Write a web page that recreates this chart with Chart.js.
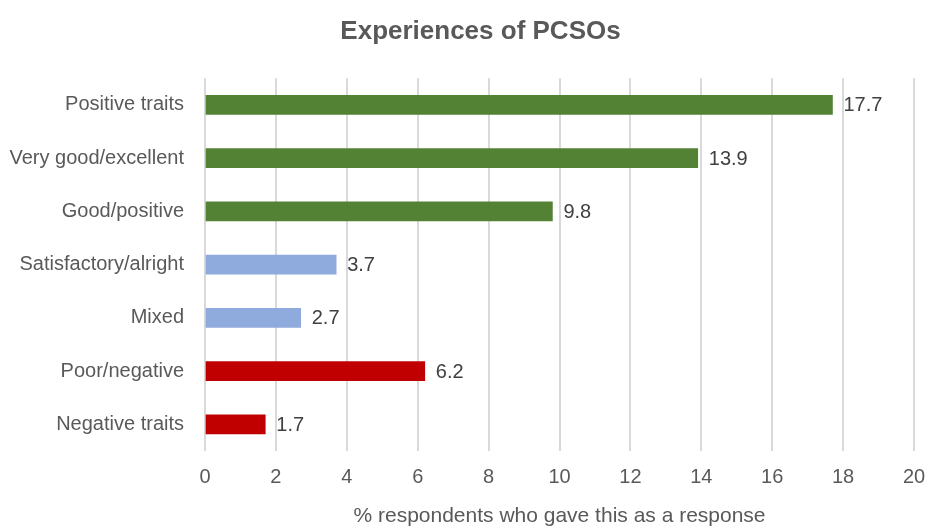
<!DOCTYPE html>
<html>
<head>
<meta charset="utf-8">
<script src="https://cdn.jsdelivr.net/npm/chart.js@4"></script>
<style>
  html, body { margin: 0; padding: 0; background: #fff; }
  #wrap { width: 927px; height: 529px; }
</style>
</head>
<body>
<div id="wrap"><canvas id="chart" width="927" height="529"></canvas></div>
<script>
// ====== DATA ======
const categories = ['Positive traits', 'Very good/excellent', 'Good/positive',
                    'Satisfactory/alright', 'Mixed', 'Poor/negative', 'Negative traits'];
const values     = [17.7, 13.9, 9.8, 3.7, 2.7, 6.2, 1.7];
const groups     = ['positive', 'positive', 'positive', 'neutral', 'neutral', 'negative', 'negative'];
const xTicks     = [0, 2, 4, 6, 8, 10, 12, 14, 16, 18, 20];

// ====== STYLE ======
const groupColors = { positive: '#548235', neutral: '#8faadc', negative: '#c00000' };
const FONT = "'Liberation Sans Narrow', 'Arial Narrow', 'Liberation Sans', sans-serif";
const TEXT = '#595959';

// draw value labels to the right of each bar
const valueLabels = {
  id: 'valueLabels',
  afterDatasetsDraw(chart) {
    const ctx = chart.ctx;
    const meta = chart.getDatasetMeta(0);
    ctx.save();
    ctx.font = '20px ' + FONT;
    ctx.fillStyle = '#404040';
    ctx.textAlign = 'left';
    ctx.textBaseline = 'middle';
    meta.data.forEach((bar, i) => {
      ctx.fillText(values[i].toFixed(1), bar.x + 11, bar.y + 1);
    });
    ctx.restore();
  }
};

// the original title sits a bit right of the canvas centre
const shiftTitle = {
  id: 'shiftTitle',
  afterLayout(chart) {
    if (chart.titleBlock) chart.titleBlock.left = 34;
  }
};

new Chart(document.getElementById('chart').getContext('2d'), {
  type: 'bar',
  data: {
    labels: categories,
    datasets: [{
      data: values,
      backgroundColor: groups.map(g => groupColors[g]),
      barThickness: 19
    }]
  },
  options: {
    indexAxis: 'y',
    responsive: false,
    animation: false,
    layout: { padding: 0 },
    plugins: {
      legend: { display: false },
      tooltip: { enabled: false },
      title: {
        display: true,
        text: 'Experiences of PCSOs',
        color: TEXT,
        font: { family: FONT, size: 26, weight: 'bold' },
        padding: { top: 16, bottom: 31 }
      }
    },
    scales: {
      x: {
        min: 0,
        max: 20,
        afterBuildTicks: axis => { axis.ticks = xTicks.map(v => ({ value: v })); },
        grid: { color: '#d9d9d9', lineWidth: 2, drawTicks: false },
        border: { display: false },
        ticks: { color: TEXT, font: { family: FONT, size: 20 }, padding: 14 },
        title: {
          display: true,
          text: '% respondents who gave this as a response',
          color: TEXT,
          font: { family: FONT, size: 21 },
          padding: { top: 4, bottom: 0 }
        },
        afterFit: axis => { axis.height = 78; axis.paddingRight = 13; }
      },
      y: {
        grid: { display: false },
        border: { display: false },
        ticks: { color: TEXT, font: { family: FONT, size: 20 }, padding: 13 },
        afterFit: axis => { axis.width = 205; }
      }
    }
  },
  plugins: [valueLabels, shiftTitle]
});
</script>
</body>
</html>
